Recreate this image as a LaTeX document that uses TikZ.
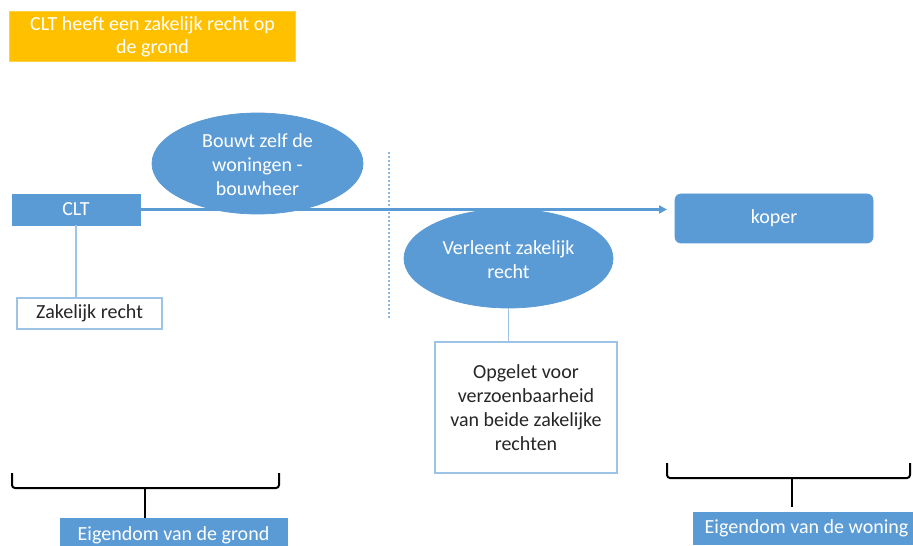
\documentclass[tikz,border=0pt]{standalone}
\usepackage{fontspec}
\setmainfont{Carlito}
\usetikzlibrary{arrows.meta,shapes.geometric}
\definecolor{accent}{HTML}{5B9BD5}
\definecolor{lightedge}{HTML}{9DC3E6}
\definecolor{gold}{HTML}{FFC000}
\definecolor{ink}{HTML}{262626}
\tikzset{
  txt/.style={font=\fontsize{20bp}{24bp}\selectfont, align=center, inner sep=0pt},
  bluebox/.style={txt, fill=accent, draw=accent, line width=0.75bp, text=white},
  oval/.style={ellipse, fill=accent, draw=accent, line width=0.75bp, inner sep=0pt},
  notebox/.style={txt, fill=white, draw=lightedge, line width=1.2bp, text=ink},
  link/.style={draw=lightedge, line width=1.5bp},
  bracket/.style={draw=black, line width=2bp, rounded corners=3bp},
}
\begin{document}
\begin{tikzpicture}[x=1bp, y=-1bp]
\useasboundingbox (0,0) rectangle (913,546);
\clip (0,0) rectangle (913,546);

% title box
\node[txt, fill=gold, draw=gold!75!white, line width=1bp, text=white,
      font=\fontsize{20bp}{23bp}\selectfont,
      minimum width=285bp, minimum height=50bp] (title) at (152.5,37)
  {CLT heeft een zakelijk recht op\\de grond};

% separator between the two phases
\draw[accent!70, line width=1.2bp, dash pattern=on 2bp off 2bp] (389,152) -- (389,320);

% actors
\node[bluebox, minimum width=128bp, minimum height=31bp] (clt) at (76,209.5) {CLT};
\node[bluebox, rounded corners=6bp, minimum width=198bp, minimum height=49bp] (koper) at (774,218.5) {koper};

% actions
\node[oval, minimum width=211bp, minimum height=101bp] (build) at (257.5,163.5) {};
\node[txt, text=white] (buildtxt) at (257.5,165) {Bouwt zelf de\\woningen -\\bouwheer};
\node[oval, minimum width=209bp, minimum height=99bp] (grant) at (508.5,258.5) {};
\node[txt, text=white] (granttxt) at (508.5,259.5) {Verleent zakelijk\\recht};

% flow from CLT to buyer
\coordinate (tip) at (667,209.5);
\draw[accent, line width=2.2bp, -{Triangle[length=8bp, width=8bp]}] (clt.east) -- (tip);

% notes
\node[notebox, minimum width=145bp, minimum height=31bp] (right) at (89.5,313.5) {Zakelijk recht};
\node[notebox, minimum width=182bp, minimum height=131bp] (note) at (526,407.5)
  {Opgelet voor\\verzoenbaarheid\\van beide zakelijke\\rechten};
\draw[link] (clt.south) -- (right.north -| clt.south);
\draw[link] (grant.south) -- (grant.south |- note.north);

% ownership brackets
\node[bluebox, minimum width=227bp, minimum height=34bp] (land) at (173.5,535) {Eigendom van de grond};
\node[bluebox, minimum width=227bp, minimum height=32bp] (home) at (806.5,528) {Eigendom van de woning};
\coordinate (lstem) at (145,488);
\coordinate (rstem) at (792,478);
\draw[bracket] (12,473) |- (279,488) -- (279,473);
\draw[line width=2bp] (lstem) -- (lstem |- land.north);
\draw[bracket] (667,463) |- (910,478) -- (910,463);
\draw[line width=2bp] (rstem) -- (792,507);
\end{tikzpicture}
\end{document}
